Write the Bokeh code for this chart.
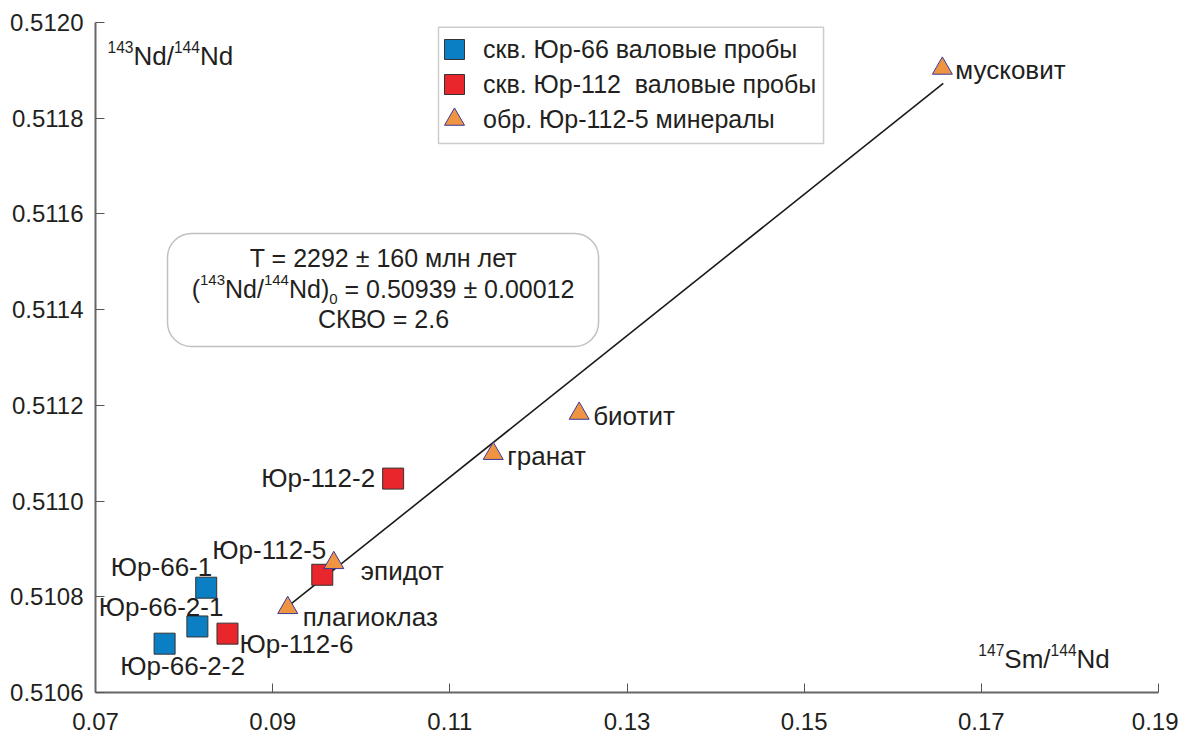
from bokeh.plotting import figure
from bokeh.models import (Range1d, FixedTicker, PrintfTickFormatter, ColumnDataSource,
                          Legend, LegendItem, BoxAnnotation)
from bokeh.core.properties import value
from bokeh.embed import file_html
from bokeh.resources import INLINE

# ---------------- data ----------------
blue_x = [0.0825, 0.0815, 0.0778]
blue_y = [0.510819, 0.510738, 0.510702]
blue_names = ["Юр-66-1", "Юр-66-2-1", "Юр-66-2-2"]

red_x = [0.0849, 0.0956, 0.1036]
red_y = [0.510723, 0.510846, 0.511047]
red_names = ["Юр-112-6", "Юр-112-5", "Юр-112-2"]

min_x = [0.0917, 0.0969, 0.1149, 0.1246, 0.1656]
min_y = [0.510777, 0.510871, 0.511099, 0.511183, 0.511904]
min_names = ["плагиоклаз", "эпидот", "гранат", "биотит", "мусковит"]

iso_x = [0.0920, 0.1657]
iso_y = [0.510784, 0.511873]

legend_labels = ["скв. Юр-66 валовые пробы", "скв. Юр-112  валовые пробы", "обр. Юр-112-5 минералы"]
x_ticks = [0.07, 0.09, 0.11, 0.13, 0.15, 0.17, 0.19]
y_ticks = [0.5106, 0.5108, 0.5110, 0.5112, 0.5114, 0.5116, 0.5118, 0.5120]

# ---------------- style ----------------
FONT = "Liberation Sans"
TXT = "#231f20"
BLUE = "#0a7fc4"
RED = "#e8262b"
ORANGE = "#ef9440"
label_style = {  # dx, dy (px), align
    "Юр-66-1": (6, -21, "right"),
    "Юр-66-2-1": (26, -19, "right"),
    "Юр-66-2-2": (18, 22, "center"),
    "Юр-112-6": (12, 10, "left"),
    "Юр-112-5": (4, -25, "right"),
    "Юр-112-2": (-18, -1, "right"),
    "плагиоклаз": (15, 9, "left"),
    "эпидот": (27, 8, "left"),
    "гранат": (14, 2, "left"),
    "биотит": (14, 3, "left"),
    "мусковит": (13, 2, "left"),
}

p = figure(width=1178, height=736, output_backend="svg", toolbar_location=None,
           x_range=Range1d(0.07, 0.19), y_range=Range1d(0.5106, 0.5120),
           min_border_left=95, min_border_right=20, min_border_top=22, min_border_bottom=44)
p.outline_line_color = None
p.xgrid.visible = False
p.ygrid.visible = False
p.background_fill_color = "white"

for ax in (p.xaxis[0], p.yaxis[0]):
    ax.axis_line_color = "#666666"
    ax.axis_line_width = 2
    ax.major_tick_in = 9
    ax.major_tick_out = 0
    ax.major_tick_line_color = "#555555"
    ax.minor_tick_line_color = None
    ax.major_label_text_font = FONT
    ax.major_label_text_font_size = "24px"
    ax.major_label_text_color = TXT
p.xaxis[0].ticker = FixedTicker(ticks=x_ticks)
p.yaxis[0].ticker = FixedTicker(ticks=y_ticks)
p.xaxis[0].formatter = PrintfTickFormatter(format="%.2f")
p.yaxis[0].formatter = PrintfTickFormatter(format="%.4f")
p.xaxis[0].major_label_standoff = 20
p.yaxis[0].major_label_standoff = 12

# isochron parameter box
box = BoxAnnotation(left=0.07813, right=0.12679, top=0.511559, bottom=0.511323,
                    fill_color="white", fill_alpha=1, line_color="#333333", line_width=1.5,
                    border_radius=24, level="underlay")
p.add_layout(box)

# legend frame
leg_box = BoxAnnotation(left=0.10872, right=0.15219, top=0.511990, bottom=0.511747,
                        fill_color="white", fill_alpha=1, line_color="#555555", line_width=1.5,
                        level="underlay")
p.add_layout(leg_box)

# isochron line
p.line(iso_x, iso_y, line_color="#1a1a1a", line_width=1.6)

r_blue = p.scatter(blue_x, blue_y, marker="square", size=21, fill_color=BLUE,
                   line_color="#333333", line_width=1)
r_red = p.scatter(red_x, red_y, marker="square", size=21, fill_color=RED,
                  line_color="#333333", line_width=1)
r_min = p.scatter(min_x, min_y, marker="triangle", size=20, fill_color=ORANGE,
                  line_color="#3a3a9c", line_width=1)

# point labels
names = blue_names + red_names + min_names
lx = blue_x + red_x + min_x
ly = blue_y + red_y + min_y
src = ColumnDataSource(dict(x=lx, y=ly, t=names,
                            dx=[label_style[n][0] for n in names],
                            dy=[label_style[n][1] for n in names],
                            al=[label_style[n][2] for n in names]))
p.text(x="x", y="y", text="t", x_offset="dx", y_offset="dy", text_align="al",
       text_baseline="middle", text_font=value(FONT), text_font_size="26px",
       text_color=TXT, source=src)

# rich text helper (super/subscripts); Arial-compatible advance widths
WID = {**{str(d): 0.556 for d in range(10)}, ".": 0.278, " ": 0.278, "(": 0.333, ")": 0.333,
       "/": 0.278, "N": 0.722, "d": 0.556, "S": 0.667, "m": 0.833, "=": 0.584, "±": 0.584}


def tw(s, size):
    return sum(WID.get(c, 0.556) for c in s) * size


def rich(x, y, parts, size, align="left", ratio=0.6):
    small = size * ratio
    widths = [tw(t, size if k == "n" else small) for t, k in parts]
    total = sum(widths)
    off = {"left": 0, "center": -total / 2, "right": -total}[align]
    for (t, k), w in zip(parts, widths):
        fs = size if k == "n" else small
        dy = 0 if k == "n" else (-0.33 * size if k == "sup" else 0.42 * size)
        lead = len(t) - len(t.lstrip(" "))
        shift = tw(" " * lead, fs)
        p.text(x=[x], y=[y], text=[t.lstrip(" ")], x_offset=off + shift, y_offset=dy,
               text_align="left", text_baseline="middle", text_font=value(FONT),
               text_font_size=f"{fs:.1f}px", text_color=TXT)
        off += w


# axis titles inside the frame
rich(0.07135, 0.511931, [("143", "sup"), ("Nd/", "n"), ("144", "sup"), ("Nd", "n")], 26)
rich(0.16966, 0.510671, [("147", "sup"), ("Sm/", "n"), ("144", "sup"), ("Nd", "n")], 26)

# box text
p.text(x=[0.10251], y=[0.511507], text=["T = 2292 ± 160 млн лет"], text_align="center",
       text_baseline="middle", text_font=value(FONT), text_font_size="25px", text_color=TXT)
rich(0.10251, 0.511444, [("(", "n"), ("143", "sup"), ("Nd/", "n"), ("144", "sup"), ("Nd)", "n"),
                         ("0", "sub"), (" = 0.50939 ± 0.00012", "n")], 25, align="center")
p.text(x=[0.10251], y=[0.511381], text=["СКВО = 2.6"], text_align="center",
       text_baseline="middle", text_font=value(FONT), text_font_size="25px", text_color=TXT)

# legend: one Legend per entry so that each key can be full size
leg_tops = [618, 583, 548]
for lab, rend, ly0 in zip(legend_labels, [r_blue, r_red, r_min], leg_tops):
    lg = Legend(items=[LegendItem(label=lab, renderers=[rend])], location=(334, ly0))
    lg.label_text_font = FONT
    lg.label_text_font_size = "25px"
    lg.label_text_color = TXT
    lg.glyph_width = 50
    lg.glyph_height = 50
    lg.label_height = 26
    lg.spacing = 0
    lg.padding = 0
    lg.margin = 0
    lg.label_standoff = 4
    lg.border_line_color = None
    lg.background_fill_alpha = 0
    p.add_layout(lg)

open("out.html", "w").write(file_html(p, INLINE))
